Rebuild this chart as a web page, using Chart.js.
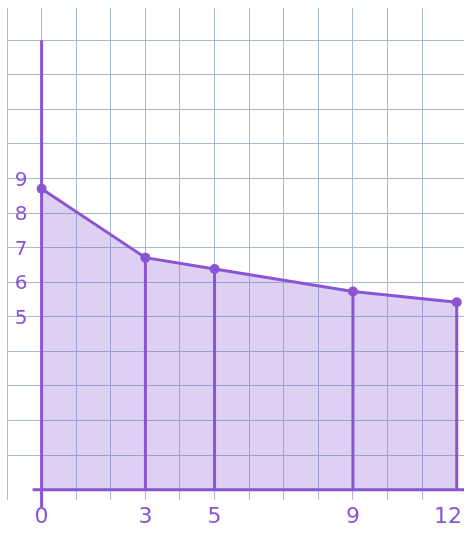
<!DOCTYPE html>
<html lang="en">
<head>
  <meta charset="UTF-8">
  <title>Area under curve</title>
  <script src="https://cdn.jsdelivr.net/npm/chart.js"></script>
  <style>
    body { margin: 0; background: #fff; overflow: hidden; }
  </style>
</head>
<body>
  <!-- a bit wider than the window: the last grid column runs off the page edge -->
  <canvas id="myChart" width="469" height="533"></canvas>

  <script>
    // Points
    const xValues = [0, 3, 5, 9, 12];
    const yValues = [8.7, 6.71, 6.38, 5.73, 5.42];

    // Hand-written labels
    const xTickLabels = ['0', '3', '5', '9', '12'];
    const yTickLabels = ['5', '6', '7', '8', '9'];

    const purple = '#8a55d3';
    const gridBlue = '#a7b9d9';

    const points = xValues.map((x, i) => ({ x: x, y: yValues[i] }));

    // vertical lines from the x axis up to each point (skip x = 0, that's the axis)
    const dropLines = points.filter(p => p.x !== 0).map(p => ({
      data: [{ x: p.x, y: 0 }, { x: p.x, y: p.y }],
      showLine: true,
      borderColor: purple,
      borderWidth: 3,
      pointRadius: 0,
      fill: false
    }));

    // keep grid lines on whole numbers only
    function integerTicks(scale) {
      scale.ticks = scale.ticks.filter(t => Number.isInteger(t.value));
    }

    const labelPlugin = {
      id: 'handLabels',
      afterDatasetsDraw(chart) {
        const ctx = chart.ctx;
        const xs = chart.scales.x;
        const ys = chart.scales.y;
        ctx.save();
        ctx.fillStyle = purple;
        ctx.font = '22px "DejaVu Sans"';
        ctx.textAlign = 'center';
        ctx.textBaseline = 'middle';
        xTickLabels.forEach(l => {
          const w = ctx.measureText(l).width;
          // keep the last label inside the visible window
          const px = Math.min(xs.getPixelForValue(Number(l)), 462 - w / 2);
          ctx.fillText(l, px, ys.getPixelForValue(0) + 28);
        });
        ctx.font = '20px "DejaVu Sans"';
        yTickLabels.forEach(l => {
          ctx.fillText(l, 21, ys.getPixelForValue(Number(l)) + 2);
        });
        ctx.restore();
      }
    };

    const ctx = document.getElementById('myChart').getContext('2d');
    new Chart(ctx, {
      type: 'scatter',
      data: {
        datasets: [
          {
            data: points,
            showLine: true,
            borderColor: purple,
            borderWidth: 3,
            pointRadius: 5,
            pointBackgroundColor: purple,
            pointBorderWidth: 0,
            backgroundColor: 'rgba(138,85,211,0.28)',
            fill: 'origin',
            clip: false
          },
          ...dropLines,
          {
            // y axis
            data: [{ x: 0, y: -0.5 }, { x: 0, y: 13 }],
            showLine: true,
            borderColor: purple,
            borderWidth: 3,
            pointRadius: 0,
            fill: false,
            clip: false
          },
          {
            // x axis
            data: [{ x: -0.26, y: 0 }, { x: 12.3, y: 0 }],
            showLine: true,
            borderColor: purple,
            borderWidth: 3,
            pointRadius: 0,
            fill: false,
            clip: false
          }
        ]
      },
      options: {
        responsive: false,
        animation: false,
        layout: { padding: { left: 7, top: 8, right: 0, bottom: 33 } },
        plugins: {
          legend: { display: false },
          tooltip: { enabled: false },
          filler: { drawTime: 'beforeDatasetsDraw' }
        },
        scales: {
          x: {
            type: 'linear',
            min: -1,
            max: 12.21,
            afterBuildTicks: integerTicks,
            ticks: { display: false, stepSize: 1 },
            grid: { color: gridBlue, drawTicks: false },
            border: { display: false }
          },
          y: {
            type: 'linear',
            min: -0.3,
            max: 13.93,
            afterBuildTicks: integerTicks,
            ticks: { display: false, stepSize: 1 },
            grid: { color: gridBlue, drawTicks: false },
            border: { display: false }
          }
        }
      },
      plugins: [labelPlugin]
    });
  </script>
</body>
</html>
